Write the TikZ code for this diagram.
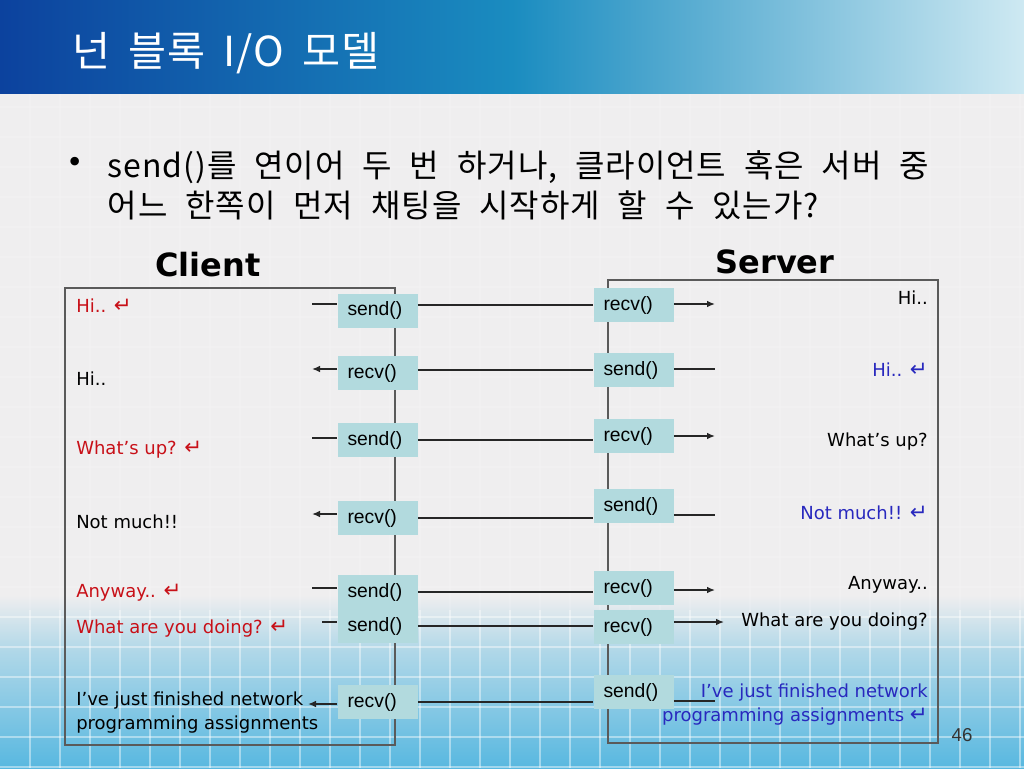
\documentclass[tikz,border=0pt]{standalone}
\usepackage{fontspec}
\setmainfont{DejaVu Sans}
\newfontfamily\krfont[WordSpace=2.2,LetterSpace=3]{Noto Sans CJK KR}
\newfontfamily\krtitle[WordSpace=1.8,LetterSpace=2]{Noto Sans CJK KR}
\newfontfamily\fnfont{Liberation Sans}
\usetikzlibrary{positioning,arrows.meta}

\definecolor{barleft}{RGB}{12,66,158}
\definecolor{barmid}{RGB}{26,140,192}
\definecolor{barright}{RGB}{206,233,242}
\definecolor{slidegray}{RGB}{239,238,239}
\definecolor{slidemid}{RGB}{175,215,232}
\definecolor{slideblue}{RGB}{88,184,224}
\definecolor{boxfill}{RGB}{178,218,222}
\definecolor{msgred}{RGB}{200,16,24}
\definecolor{msgblue}{RGB}{40,40,190}
\definecolor{framegray}{RGB}{90,90,90}

\newcommand{\entr}{{\fontsize{16}{16}\selectfont ↵}}

\tikzset{
  gridline/.style={draw=white,opacity=0.13,line width=0.8pt},
  panel/.style={draw=framegray,line width=1.1pt},
  fncall/.style={fill=boxfill,font=\fnfont\fontsize{14.5}{16}\selectfont,text width=45pt,align=left,
    inner xsep=7.5pt,inner ysep=0pt,minimum height=25.5pt},
  msg/.style={font=\fontsize{13.5}{18}\selectfont,inner sep=0pt},
  side/.style={font=\bfseries\fontsize{24}{28}\selectfont},
  link/.style={line width=1.1pt,draw=black!85},
  tip/.style={-{Latex[length=6pt,width=5pt]}}
}

\begin{document}
\begin{tikzpicture}[x=0.75pt,y=-0.75pt]
  \useasboundingbox (0,0) rectangle (1024,768);
  % background
  \fill[slidegray] (0,0) rectangle (1024,768);
  \shade[top color=slidegray,bottom color=slidemid] (0,595) rectangle (1024,652);
  \shade[top color=slidemid,bottom color=slideblue] (0,652) rectangle (1024,768);
  \foreach \gx in {30,60,...,1020} \draw[gridline] (\gx,93) -- (\gx,768);
  \foreach \gy in {107,137,...,767} \draw[gridline] (0,\gy) -- (1024,\gy);
  \begin{scope}[gridline/.append style={opacity=0.35}]
    \clip (0,610) rectangle (1024,768);
    \foreach \gx in {30,60,...,1020} \draw[gridline] (\gx,600) -- (\gx,768);
    \foreach \gy in {617,647,...,767} \draw[gridline] (0,\gy) -- (1024,\gy);
  \end{scope}
  \shade[left color=barleft,right color=barmid] (0,0) rectangle (512,93);
  \shade[left color=barmid,right color=barright] (512,0) rectangle (1024,93);
  \node[anchor=west,text=white,font=\krtitle\fontsize{31}{36}\selectfont] (heading) at (68,53) {넌 블록 I/O 모델};

  % question
  \node[font=\fontsize{22}{26}\selectfont] (dot) at (75,165) {•};
  \node[anchor=west,align=left,font=\krfont\fontsize{24}{30}\selectfont] (question) at (103,185)
    {send()를 연이어 두 번 하거나, 클라이언트 혹은 서버 중\\어느 한쪽이 먼저 채팅을 시작하게 할 수 있는가?};

  % client and server
  \node[side] (clientname) at (208,265) {Client};
  \node[side] (servername) at (775,262) {Server};
  \draw[panel] (65,288) rectangle (395,745);
  \draw[panel] (608,280) rectangle (938,743);

  \node[fncall] (c1) at (377.5,310.5) {send()};
  \node[fncall] (c2) at (377.5,373) {recv()};
  \node[fncall] (c3) at (377.5,440) {send()};
  \node[fncall] (c4) at (377.5,518) {recv()};
  \node[fncall] (c5) at (377.5,592) {send()};
  \node[fncall] (c6) at (377.5,626) {send()};
  \node[fncall] (c7) at (377.5,702) {recv()};

  \node[fncall] (s1) at (633.5,305) {recv()};
  \node[fncall] (s2) at (633.5,370) {send()};
  \node[fncall] (s3) at (633.5,436) {recv()};
  \node[fncall] (s4) at (633.5,506) {send()};
  \node[fncall] (s5) at (633.5,588) {recv()};
  \node[fncall] (s6) at (633.5,627) {recv()};
  \node[fncall] (s7) at (633.5,692) {send()};

  % network
  \draw[link] (c1.east |- s1.west) -- (s1.west);
  \draw[link] (c2.east |- s2.west) -- (s2.west);
  \draw[link] (c3.east) -- (c3.east -| s3.west);
  \draw[link] (c4.east) -- (c4.east -| s4.west);
  \draw[link] (c5.east) -- (c5.east -| s5.west);
  \draw[link] (c6.east) -- (c6.east -| s6.west);
  \draw[link] (c7.east) -- (c7.east -| s7.west);

  % client side
  \coordinate (cl1) at (312,304);
  \coordinate (cl2) at (312,369);
  \coordinate (cl3) at (312,438);
  \coordinate (cl4) at (312,514);
  \coordinate (cl5) at (312,588);
  \coordinate (cl6) at (322,622);
  \coordinate (cl7) at (308,704);
  \draw[link] (cl1) -- (c1.west |- cl1);
  \draw[link,tip] (c2.west |- cl2) -- (cl2);
  \draw[link] (cl3) -- (c3.west |- cl3);
  \draw[link,tip] (c4.west |- cl4) -- (cl4);
  \draw[link] (cl5) -- (c5.west |- cl5);
  \draw[link] (cl6) -- (c6.west |- cl6);
  \draw[link,tip] (c7.west |- cl7) -- (cl7);

  % server side
  \coordinate (sr1) at (715,304);
  \coordinate (sr2) at (715,369);
  \coordinate (sr3) at (715,436);
  \coordinate (sr4) at (715,515);
  \coordinate (sr5) at (715,590);
  \coordinate (sr6) at (724,622);
  \coordinate (sr7) at (715,701);
  \draw[link,tip] (s1.east |- sr1) -- (sr1);
  \draw[link] (s2.east |- sr2) -- (sr2);
  \draw[link,tip] (s3.east |- sr3) -- (sr3);
  \draw[link] (s4.east |- sr4) -- (sr4);
  \draw[link,tip] (s5.east |- sr5) -- (sr5);
  \draw[link,tip] (s6.east |- sr6) -- (sr6);
  \draw[link] (s7.east |- sr7) -- (sr7);

  % chat on the client
  \node[msg,anchor=west,text=msgred] (cm1) at (76,306) {Hi.. \entr};
  \node[msg,anchor=west] (cm2) at (76,379) {Hi..};
  \node[msg,anchor=west,text=msgred] (cm3) at (76,450) {What’s up? \entr};
  \node[msg,anchor=west] (cm4) at (76,522) {Not much!!};
  \node[msg,anchor=west,text=msgred] (cm5) at (76,593) {Anyway.. \entr};
  \node[msg,anchor=west,text=msgred] (cm6) at (76,629) {What are you doing? \entr};
  \node[msg,anchor=west,align=left] (cm7) at (76,713) {I’ve just finished network\\programming assignments};

  % chat on the server
  \node[msg,anchor=east] (sm1) at (928,298) {Hi..};
  \node[msg,anchor=east,text=msgblue] (sm2) at (928,370) {Hi.. \entr};
  \node[msg,anchor=east] (sm3) at (928,442) {What’s up?};
  \node[msg,anchor=east,text=msgblue] (sm4) at (928,513) {Not much!! \entr};
  \node[msg,anchor=east] (sm5) at (928,585) {Anyway..};
  \node[msg,anchor=east] (sm6) at (928,622) {What are you doing?};
  \node[msg,anchor=east,align=right,text=msgblue] (sm7) at (928,705) {I’ve just finished network\\programming assignments \entr};

  \node[font=\fnfont\fontsize{14}{16}\selectfont,text=black!80] (pagenum) at (962,735) {46};
\end{tikzpicture}
\end{document}
